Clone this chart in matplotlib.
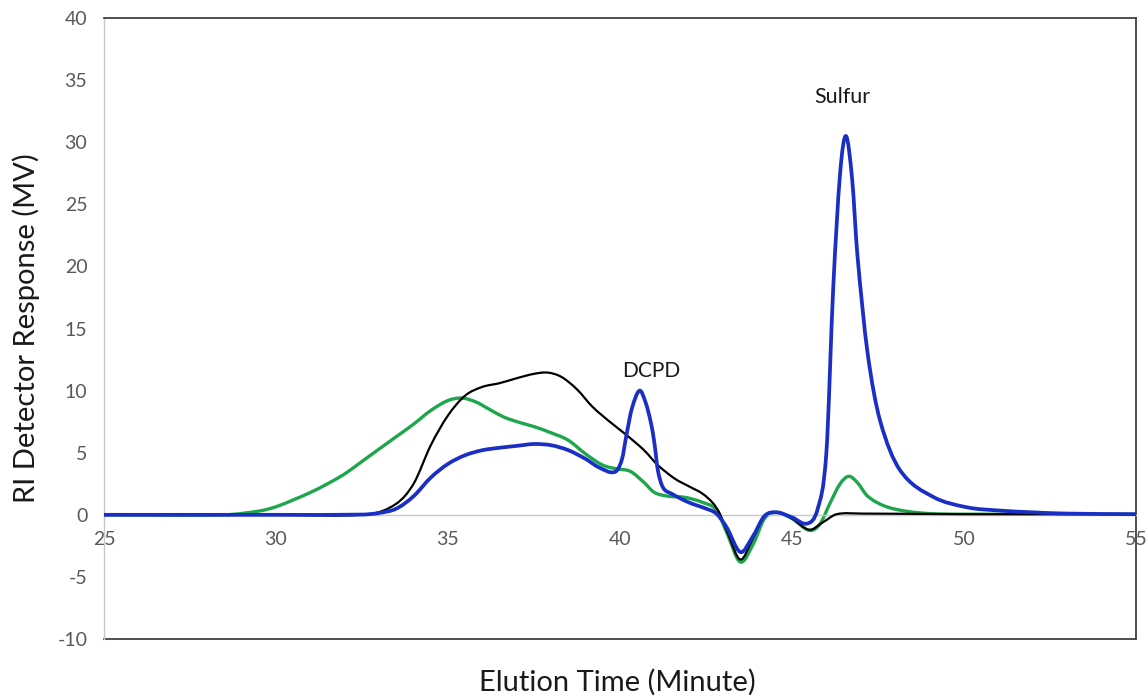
import matplotlib
matplotlib.use("Agg")
import matplotlib.pyplot as plt
from matplotlib.path import Path
from matplotlib.patches import PathPatch
import numpy as np

plt.rcParams['font.family'] = ['Lato', 'DejaVu Sans']
plt.rcParams['axes.unicode_minus'] = False

# Elution time (minute) and RI detector response (MV) for each trace
black_x = [25, 30, 32.7, 33.5, 34.0, 34.5, 35.0, 35.5, 36.0, 36.5, 37.0, 37.5, 37.9,
           38.3, 38.75, 39.2, 39.7, 40.2, 40.7, 41.1, 41.6, 42.0, 42.4, 42.7, 42.9,
           43.15, 43.5, 43.85, 44.2, 44.55, 45.0, 45.5, 45.9, 46.3, 47.0, 50.0, 55.0]
black_y = [0, 0, 0.05, 0.9, 2.5, 5.6, 8.0, 9.6, 10.3, 10.6, 11.0, 11.35, 11.45,
           11.1, 10.1, 8.7, 7.5, 6.4, 5.2, 4.0, 2.9, 2.3, 1.7, 0.95, 0.1,
           -1.6, -3.6, -2.0, -0.1, 0.2, -0.3, -1.2, -0.6, 0.05, 0.1, 0.05, 0.05]

green_x = [25, 28.5, 29.5, 30.0, 30.5, 31.0, 31.5, 32.0, 32.5, 33.0, 33.5, 34.0, 34.5,
           35.0, 35.4, 35.8, 36.2, 36.6, 37.0, 37.5, 38.0, 38.5, 39.0, 39.5, 39.9,
           40.3, 40.7, 41.0, 41.4, 41.9, 42.4, 42.8, 43.1, 43.5, 43.9, 44.2, 44.55,
           45.0, 45.5, 45.8, 46.1, 46.4, 46.65, 46.9, 47.2, 47.7, 48.3, 49.0, 50.0, 55.0]
green_y = [0, 0, 0.3, 0.65, 1.2, 1.8, 2.5, 3.3, 4.3, 5.3, 6.3, 7.3, 8.4,
           9.2, 9.4, 9.1, 8.5, 7.9, 7.5, 7.1, 6.6, 6.0, 4.9, 4.0, 3.7,
           3.5, 2.6, 1.8, 1.5, 1.4, 1.0, 0.4, -1.4, -3.8, -2.2, -0.3, 0.2,
           -0.3, -1.25, -0.8, 0.9, 2.5, 3.1, 2.6, 1.5, 0.7, 0.3, 0.1, 0.05, 0.05]

blue_x = [25, 30, 32.5, 33.0, 33.5, 34.0, 34.5, 35.0, 35.5, 36.0, 36.5, 37.0, 37.5,
          38.0, 38.5, 39.0, 39.4, 39.85, 40.05, 40.2, 40.35, 40.57, 40.75, 40.9, 41.0,
          41.1, 41.25, 41.5, 42.0, 42.5, 42.8, 43.1, 43.5, 43.85, 44.2, 44.55, 45.0,
          45.45, 45.75, 46.0, 46.2, 46.4, 46.57, 46.75, 46.9, 47.2, 47.56, 48.14,
          49.1, 50.1, 51.0, 52.0, 53.0, 55.0]
blue_y = [0, 0, 0.02, 0.15, 0.5, 1.5, 3.0, 4.1, 4.8, 5.2, 5.4, 5.55, 5.7,
          5.6, 5.2, 4.5, 3.8, 3.45, 4.4, 6.6, 8.6, 10.0, 9.0, 7.4, 5.8,
          3.6, 2.2, 1.7, 1.0, 0.5, 0.1, -1.0, -3.0, -1.8, -0.1, 0.2, -0.2,
          -0.7, 0.5, 5.0, 18.3, 27.5, 30.5, 27.0, 21.0, 13.0, 7.6, 3.6,
          1.45, 0.6, 0.35, 0.2, 0.1, 0.05]

x_ticks = [25, 30, 35, 40, 45, 50, 55]
y_ticks = [-10, -5, 0, 5, 10, 15, 20, 25, 30, 35, 40]


def smooth_path(xs, ys):
    """Smoothed line through the points: cubic Hermite pieces drawn as Bezier curves."""
    x = np.asarray(xs, float)
    y = np.asarray(ys, float)
    n = len(x)
    m = np.empty(n)
    m[0] = (y[1] - y[0]) / (x[1] - x[0])
    m[-1] = (y[-1] - y[-2]) / (x[-1] - x[-2])
    m[1:-1] = (y[2:] - y[:-2]) / (x[2:] - x[:-2])
    verts = [(x[0], y[0])]
    codes = [Path.MOVETO]
    for i in range(n - 1):
        h = x[i + 1] - x[i]
        verts += [(x[i] + h / 3, y[i] + m[i] * h / 3),
                  (x[i + 1] - h / 3, y[i + 1] - m[i + 1] * h / 3),
                  (x[i + 1], y[i + 1])]
        codes += [Path.CURVE4] * 3
    return Path(np.array(verts), codes)


fig = plt.figure(figsize=(11.48, 7.0), dpi=100)
ax = fig.add_axes([0.0906, 0.0871, 0.8989, 0.8872])

series = [
    (green_x, green_y, '#1ea64c', 2.4, 2),
    (black_x, black_y, '#000000', 1.6, 3),
    (blue_x, blue_y, '#1a2fc4', 2.7, 4),
]
for xs, ys, color, lw, z in series:
    ax.add_patch(PathPatch(smooth_path(xs, ys), facecolor='none', edgecolor=color,
                           lw=lw, zorder=z, capstyle='round', joinstyle='round'))

ax.set_xlim(25, 55)
ax.set_ylim(-10, 40)
ax.set_xticks(x_ticks)
ax.set_yticks(y_ticks)

# horizontal axis crosses at zero
ax.spines['bottom'].set_position(('data', 0))
ax.spines['bottom'].set_color('#c8c8c8')
ax.spines['bottom'].set_linewidth(1.0)
ax.spines['left'].set_color('#c8c8c8')
ax.spines['left'].set_linewidth(1.0)
for side in ('top', 'right'):
    ax.spines[side].set_color('#404040')
    ax.spines[side].set_linewidth(1.3)
ax.axhline(-10, color='#404040', lw=1.3, zorder=1, clip_on=False)

ax.tick_params(axis='both', length=0, labelsize=14, labelcolor='#595959')
ax.tick_params(axis='x', pad=12)
ax.tick_params(axis='y', pad=12)

ax.set_xlabel('Elution Time (Minute)', fontsize=21, color='#1a1a1a')
ax.xaxis.set_label_coords(0.497, -0.048)
ax.set_ylabel('RI Detector Response (MV)', fontsize=21, color='#1a1a1a')
ax.yaxis.set_label_coords(-0.062, 0.5)

ax.text(40.9, 11.6, 'DCPD', ha='center', va='center', fontsize=15, color='#1a1a1a')
ax.text(46.45, 33.6, 'Sulfur', ha='center', va='center', fontsize=15.5, color='#1a1a1a')

fig.savefig('out.png', dpi=100, facecolor='white')
